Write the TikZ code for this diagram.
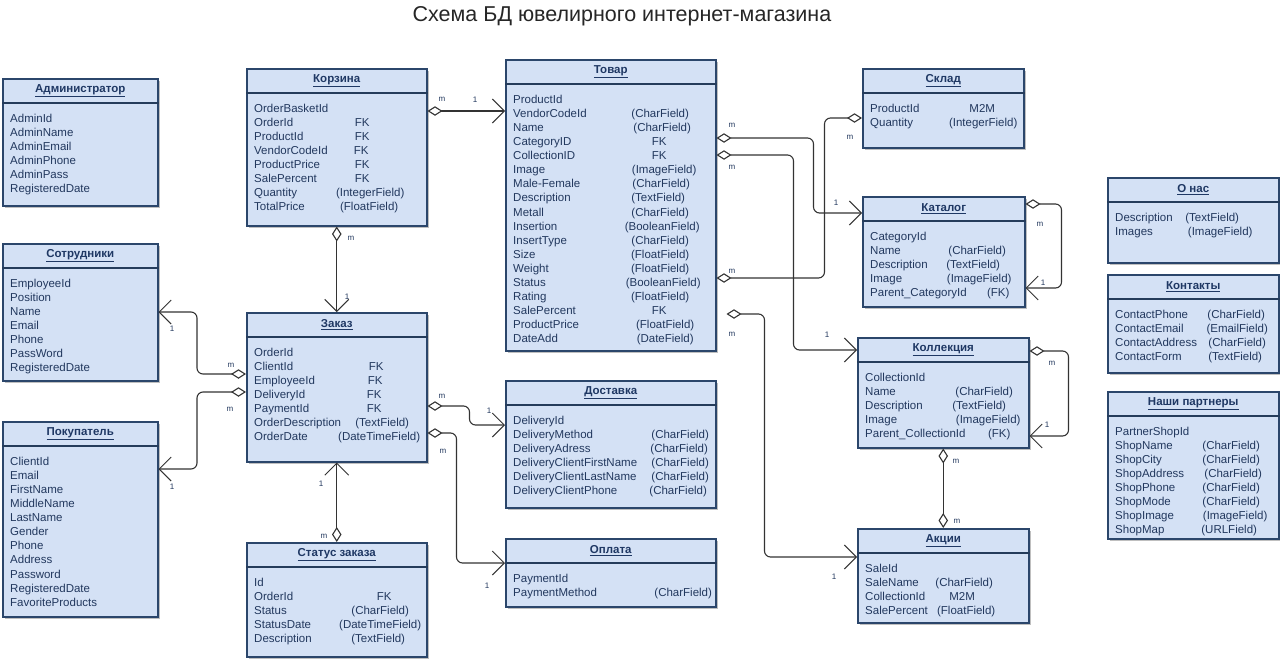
\documentclass[tikz,border=0pt]{standalone}
\usepackage{fontspec}
\setmainfont{Liberation Sans}
\usetikzlibrary{arrows.meta,calc,shadows}
\definecolor{boxfill}{HTML}{D4E1F5}
\definecolor{boxline}{HTML}{2B466B}
\definecolor{txt}{HTML}{22385E}
\definecolor{ttl}{HTML}{1F3864}
\definecolor{linec}{HTML}{333333}
\newcommand\fl[3]{\makebox[0pt][l]{#1}\hspace*{#2pt}\makebox[0pt][c]{#3}\strut}
\newcommand\fn[1]{#1\strut}
\newcommand\ent[7]{%
 \node[ebox, minimum width=#4pt, minimum height=#5pt, anchor=north west] (#1) at (#2,#3) {};
 \draw[hline] ([yshift=-25pt]#1.north west) -- ([yshift=-25pt]#1.north east);
 \node[etitle] (#1-t) at ([yshift=-12.5pt]#1.north) {\underline{#6}};
 \node[efields] (#1-f) at ([xshift=8pt,yshift=-34.2pt]#1.north west) {#7};
}
\tikzset{
 ebox/.style={draw=boxline, line width=1.5pt, fill=boxfill, inner sep=0pt,
   drop shadow={shadow xshift=2.5pt, shadow yshift=-2.5pt, fill=black!45, opacity=0.55}},
 hline/.style={draw=boxline!85!black, line width=1.7pt},
 etitle/.style={font=\bfseries\fontsize{11.5}{13}\selectfont, text=ttl, inner sep=0pt},
 efields/.style={anchor=north west, align=left, inner sep=0pt, text=txt, font=\fontsize{11.5}{14.1}\selectfont},
 rel/.style={draw=linec, line width=1.1pt, rounded corners=6pt,
   arrows={Diamond[fill=white,length=15pt,width=9.5pt]-Straight Barb[length=12pt,width=24pt,line width=1pt]}},
 mm/.style={draw=linec, line width=1.1pt, rounded corners=6pt,
   arrows={Diamond[fill=white,length=15pt,width=9.5pt]-Diamond[fill=white,length=15pt,width=9.5pt]}},
 card/.style={font=\fontsize{8}{9}\selectfont, text=txt, inner sep=0pt},
}
\begin{document}
\begin{tikzpicture}[x=1pt,y=-1pt]
\useasboundingbox[fill=white] (0,0) rectangle (1280,659);
\node[font=\fontsize{21.5}{25}\selectfont, text=black!85] (title) at (622,16) {Схема БД ювелирного интернет-магазина};

\ent{adm}{2}{78}{155}{127}{Администратор}{\fn{AdminId}\\\fn{AdminName}\\\fn{AdminEmail}\\\fn{AdminPhone}\\\fn{AdminPass}\\\fn{RegisteredDate}}
\ent{korz}{246}{68}{180}{157}{Корзина}{\fn{OrderBasketId}\\\fl{OrderId}{108}{FK}\\\fl{ProductId}{108}{FK}\\\fl{VendorCodeId}{107}{FK}\\\fl{ProductPrice}{108}{FK}\\\fl{SalePercent}{108}{FK}\\\fl{Quantity}{116}{(IntegerField)}\\\fl{TotalPrice}{115}{(FloatField)}}
\ent{tovar}{505}{59}{210}{291}{Товар}{\fn{ProductId}\\\fl{VendorCodeId}{147}{(CharField)}\\\fl{Name}{149}{(CharField)}\\\fl{CategoryID}{146}{FK}\\\fl{CollectionID}{146}{FK}\\\fl{Image}{151}{(ImageField)}\\\fl{Male-Female}{148}{(CharField)}\\\fl{Description}{145}{(TextField)}\\\fl{Metall}{147}{(CharField)}\\\fl{Insertion}{149}{(BooleanField)}\\\fl{InsertType}{147}{(CharField)}\\\fl{Size}{147}{(FloatField)}\\\fl{Weight}{147}{(FloatField)}\\\fl{Status}{150}{(BooleanField)}\\\fl{Rating}{147}{(FloatField)}\\\fl{SalePercent}{146}{FK}\\\fl{ProductPrice}{152}{(FloatField)}\\\fl{DateAdd}{152}{(DateField)}}
\ent{sklad}{862}{68}{161}{79}{Склад}{\fl{ProductId}{112}{M2M}\\\fl{Quantity}{113}{(IntegerField)}}
\ent{katalog}{862}{196}{162}{110}{Каталог}{\fn{CategoryId}\\\fl{Name}{107}{(CharField)}\\\fl{Description}{103}{(TextField)}\\\fl{Image}{109}{(ImageField)}\\\fl{Parent\_CategoryId}{128}{(FK)}}
\ent{onas}{1107}{177}{171}{85}{О нас}{\fl{Description}{97}{(TextField)}\\\fl{Images}{105}{(ImageField)}}
\ent{kont}{1107}{274}{171}{98}{Контакты}{\fl{ContactPhone}{121}{(CharField)}\\\fl{ContactEmail}{122}{(EmailField)}\\\fl{ContactAddress}{122}{(CharField)}\\\fl{ContactForm}{120}{(TextField)}}
\ent{partn}{1107}{391}{171}{147}{Наши партнеры}{\fn{PartnerShopId}\\\fl{ShopName}{116}{(CharField)}\\\fl{ShopCity}{116}{(CharField)}\\\fl{ShopAddress}{118}{(CharField)}\\\fl{ShopPhone}{116}{(CharField)}\\\fl{ShopMode}{116}{(CharField)}\\\fl{ShopImage}{120}{(ImageField)}\\\fl{ShopMap}{114}{(URLField)}}
\ent{sotr}{2}{243}{155}{137}{Сотрудники}{\fn{EmployeeId}\\\fn{Position}\\\fn{Name}\\\fn{Email}\\\fn{Phone}\\\fn{PassWord}\\\fn{RegisteredDate}}
\ent{pokup}{2}{421}{155}{195}{Покупатель}{\fn{ClientId}\\\fn{Email}\\\fn{FirstName}\\\fn{MiddleName}\\\fn{LastName}\\\fn{Gender}\\\fn{Phone}\\\fn{Address}\\\fn{Password}\\\fn{RegisteredDate}\\\fn{FavoriteProducts}}
\ent{zakaz}{246}{312}{180}{149}{Заказ}{\fn{OrderId}\\\fl{ClientId}{122}{FK}\\\fl{EmployeeId}{121}{FK}\\\fl{DeliveryId}{120}{FK}\\\fl{PaymentId}{120}{FK}\\\fl{OrderDescription}{128}{(TextField)}\\\fl{OrderDate}{125}{(DateTimeField)}}
\ent{dost}{505}{380}{210}{127}{Доставка}{\fn{DeliveryId}\\\fl{DeliveryMethod}{167}{(CharField)}\\\fl{DeliveryAdress}{166}{(CharField)}\\\fl{DeliveryClientFirstName}{167}{(CharField)}\\\fl{DeliveryClientLastName}{167}{(CharField)}\\\fl{DeliveryClientPhone}{165}{(CharField)}}
\ent{opl}{505}{538}{210}{68}{Оплата}{\fn{PaymentId}\\\fl{PaymentMethod}{170}{(CharField)}}
\ent{status}{246}{542}{180}{114}{Статус заказа}{\fn{Id}\\\fl{OrderId}{130}{FK}\\\fl{Status}{126}{(CharField)}\\\fl{StatusDate}{126}{(DateTimeField)}\\\fl{Description}{124}{(TextField)}}
\ent{koll}{857}{337}{171}{110}{Коллекция}{\fn{CollectionId}\\\fl{Name}{119}{(CharField)}\\\fl{Description}{114}{(TextField)}\\\fl{Image}{123}{(ImageField)}\\\fl{Parent\_CollectionId}{134}{(FK)}}
\ent{akcii}{857}{528}{171}{94}{Акции}{\fn{SaleId}\\\fl{SaleName}{99}{(CharField)}\\\fl{CollectionId}{97}{M2M}\\\fl{SalePercent}{101}{(FloatField)}}

% connectors
\coordinate (c1) at ($(korz.north east)+(0,43)$);
\draw[rel] (c1) -- (c1 -| tovar.west);
\draw[rel] (korz.south) -- (zakaz.north);
\coordinate (c3) at ($(zakaz.north west)+(0,62)$);
\coordinate (e3) at ($(sotr.north east)+(0,69)$);
\draw[rel] (c3) -- ++(-49,0) |- (e3);
\coordinate (c4) at ($(zakaz.north west)+(0,80)$);
\coordinate (e4) at ($(pokup.north east)+(0,48)$);
\draw[rel] (c4) -- ++(-49,0) |- (e4);
\coordinate (c5) at ($(zakaz.north east)+(0,94)$);
\coordinate (e5) at ($(dost.north west)+(0,45)$);
\draw[rel] (c5) -- ++(42,0) |- (e5);
\coordinate (c6) at ($(zakaz.north east)+(0,121)$);
\coordinate (e6) at ($(opl.north west)+(0,25)$);
\draw[rel] (c6) -- ++(29,0) |- (e6);
\draw[rel] (status.north) -- (zakaz.south);
\coordinate (c8) at ($(tovar.north east)+(0,79)$);
\coordinate (e8) at ($(katalog.north west)+(0,17)$);
\draw[rel] (c8) -- ++(97,0) |- (e8);
\coordinate (c9) at ($(tovar.north east)+(0,96)$);
\coordinate (e9) at ($(koll.north west)+(0,13)$);
\draw[rel] (c9) -- ++(77,0) |- (e9);
\coordinate (c10) at ($(tovar.north east)+(0,219)$);
\coordinate (e10) at ($(sklad.north west)+(0,50)$);
\draw[mm] (c10) -- ++(108,0) |- (e10);
\coordinate (c11) at ($(tovar.north east)+(10,255)$);
\coordinate (e11) at ($(akcii.north west)+(0,29)$);
\draw[rel] (c11) -- ++(38,0) |- (e11);
\coordinate (c12) at ($(katalog.north east)+(0,8)$);
\coordinate (e12) at ($(katalog.north east)+(0,92)$);
\draw[rel] (c12) -- ++(36,0) |- (e12);
\coordinate (c13) at ($(koll.north east)+(0,14)$);
\coordinate (e13) at ($(koll.north east)+(0,99)$);
\draw[rel] (c13) -- ++(39,0) |- (e13);
\draw[mm] (koll.south) -- (koll.south |- akcii.north);

% cardinalities
\node[card] (l1a) at (442,99) {m};
\node[card] (l1b) at (475,100) {1};
\node[card] (l2a) at (351,238) {m};
\node[card] (l2b) at (347,297) {1};
\node[card] (l3a) at (231,365) {m};
\node[card] (l3b) at (172,329) {1};
\node[card] (l4a) at (230,409) {m};
\node[card] (l4b) at (172,487) {1};
\node[card] (l5a) at (442,396) {m};
\node[card] (l5b) at (489,411) {1};
\node[card] (l6a) at (443,451) {m};
\node[card] (l6b) at (487,586) {1};
\node[card] (l7a) at (321,484) {1};
\node[card] (l7b) at (324,536) {m};
\node[card] (l8a) at (732,125) {m};
\node[card] (l8b) at (836,203) {1};
\node[card] (l9a) at (732,167) {m};
\node[card] (l9b) at (827,335) {1};
\node[card] (l10a) at (732,271) {m};
\node[card] (l10b) at (850,137) {m};
\node[card] (l11a) at (732,334) {m};
\node[card] (l11b) at (834,577) {1};
\node[card] (l12a) at (1040,224) {m};
\node[card] (l12b) at (1043,283) {1};
\node[card] (l13a) at (1052,363) {m};
\node[card] (l13b) at (1047,425) {1};
\node[card] (l14a) at (956,461) {m};
\node[card] (l14b) at (957,521) {m};
\end{tikzpicture}
\end{document}
